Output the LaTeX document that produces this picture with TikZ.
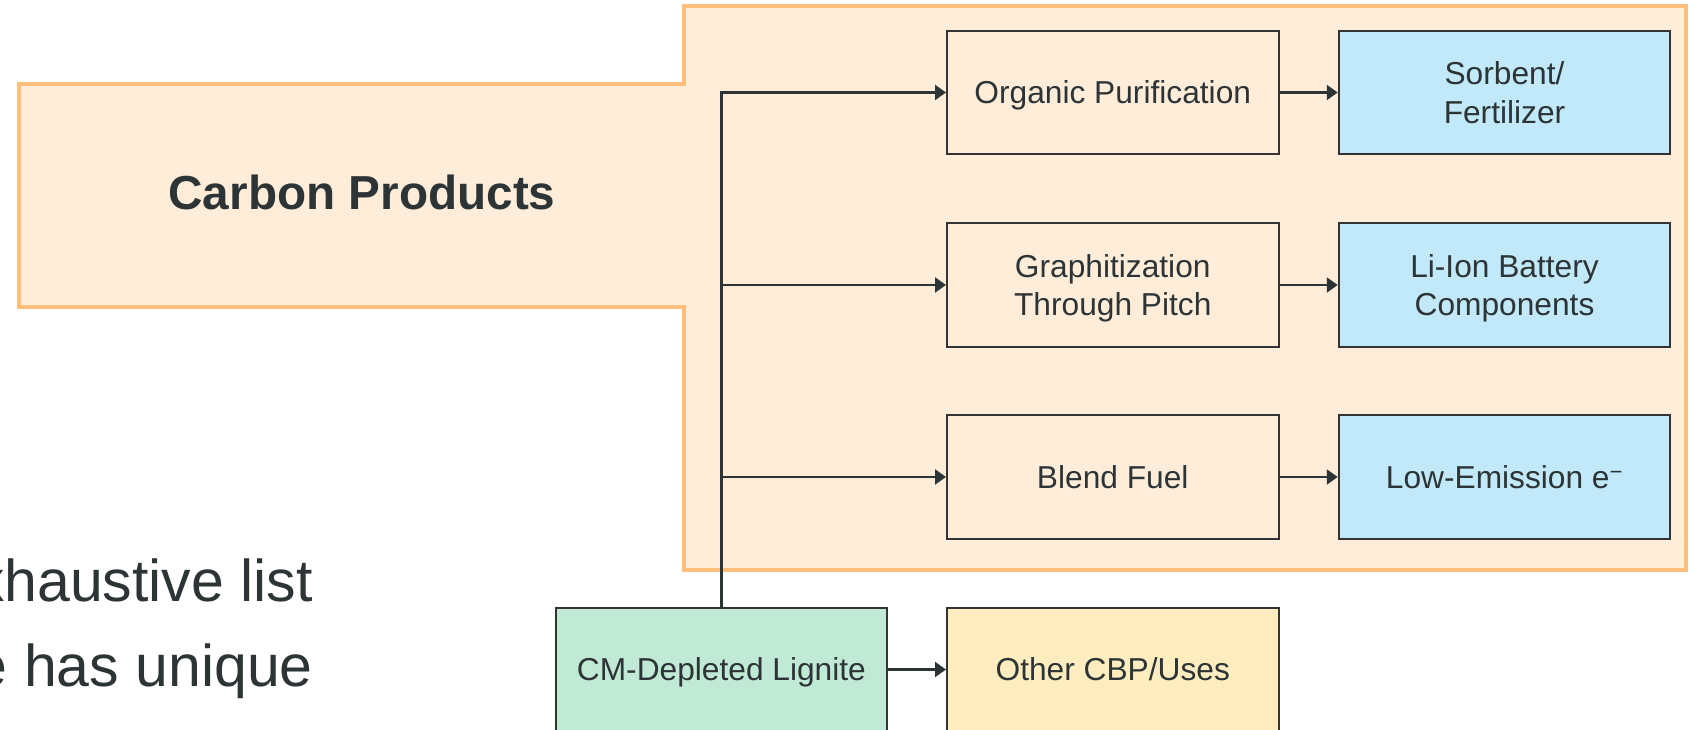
\documentclass[tikz,border=0pt]{standalone}
\usepackage{fontspec}
\setmainfont{Liberation Sans}
\usetikzlibrary{arrows.meta}

\definecolor{ink}{HTML}{2D3436}
\definecolor{edge}{HTML}{333333}
\definecolor{groupfill}{HTML}{FFEDDA}
\definecolor{groupline}{HTML}{FFBE79}
\definecolor{bluefill}{HTML}{C1E9F9}
\definecolor{greenfill}{HTML}{C0EAD5}
\definecolor{yellowfill}{HTML}{FFEDBF}

% box labels: strut-spaced lines, set a little below the optical middle
\newcommand\boxlines[1]{\raisebox{-3.8pt}[\height][\depth]{%
  \begin{tabular}{@{}c@{}}#1\end{tabular}}}

\tikzset{
  procbox/.style={draw=edge, line width=2pt, minimum width=331.5pt,
    minimum height=123.5pt, inner sep=0pt, text=ink,
    font=\fontsize{31.7pt}{38.4pt}\selectfont},
  stagebox/.style={procbox, fill=groupfill},
  outbox/.style={procbox, fill=bluefill},
  srcbox/.style={procbox, fill=greenfill},
  otherbox/.style={procbox, fill=yellowfill},
  flow/.style={draw=ink, line width=2.2pt,
    -{Triangle[length=11pt, width=15pt]}},
  bodytext/.style={text=ink, inner sep=0pt,
    font=\fontsize{59pt}{70pt}\selectfont}
}

\begin{document}
\begin{tikzpicture}[x=1pt, y=-1pt]
\useasboundingbox (0,0) rectangle (1698,730);

% carbon products group outline
\path[fill=groupfill, draw=groupline, line width=4pt]
  (19,84) -- (684,84) -- (684,6) -- (1686,6) -- (1686,570)
  -- (684,570) -- (684,307) -- (19,307) -- cycle;
\node[anchor=base, text=ink, inner sep=0pt,
  font=\fontsize{47.7pt}{57pt}\selectfont\bfseries]
  (title) at (362,210) {Carbon Products};

% body text running in from the left
\node[bodytext, anchor=base east] (line1) at (313,601.7) {xhaustive list};
\node[bodytext, anchor=base east] (line2) at (313,686.7) {e has unique};

% process stages and products
\node[stagebox] (op) at (1112.75,92.5) {\boxlines{Organic Purification}};
\node[stagebox] (gp) at (1112.75,285) {\boxlines{Graphitization\\Through Pitch}};
\node[stagebox] (bf) at (1112.75,477) {\boxlines{Blend Fuel}};
\node[outbox] (sf) at (1504.5,92.5) {\boxlines{Sorbent/\\Fertilizer}};
\node[outbox] (li) at (1504.5,285) {\boxlines{Li-Ion Battery\\Components}};
\node[outbox] (le) at (1504.5,477) {\boxlines{Low-Emission e\textsuperscript{−}}};

% source and other uses
\node[srcbox] (cm) at (721.4,669.5) {\boxlines{CM-Depleted Lignite}};
\node[otherbox] (ou) at (1112.75,669.5) {\boxlines{Other CBP/Uses}};

% connectors
\draw[flow] (cm.north) |- (op.west);
\draw[flow] (cm.north |- gp.west) -- (gp.west);
\draw[flow] (cm.north |- bf.west) -- (bf.west);
\draw[flow] (op.east) -- (sf.west);
\draw[flow] (gp.east) -- (li.west);
\draw[flow] (bf.east) -- (le.west);
\draw[flow] (cm.east) -- (ou.west);
\end{tikzpicture}
\end{document}
